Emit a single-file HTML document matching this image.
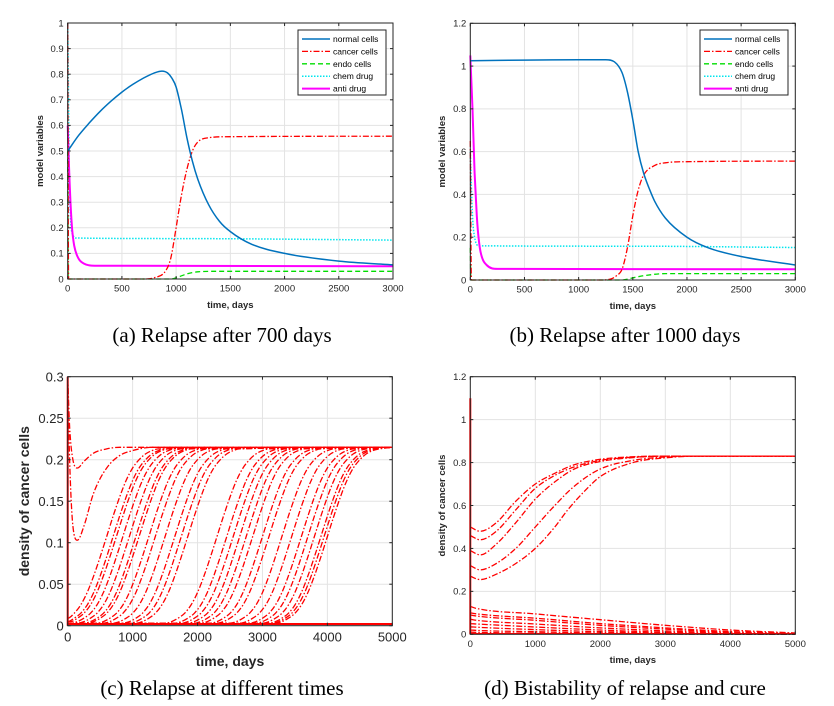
<!DOCTYPE html>
<html><head><meta charset="utf-8"><style>
body{margin:0;background:#fff;}
svg{display:block;font-family:"Liberation Sans",sans-serif;}
.cap{font-family:"Liberation Serif",serif;font-size:21px;fill:#000;}
</style></head><body>
<svg id="fig" width="834" height="706" viewBox="0 0 834 706"></svg>
<script>
// ---- Data: panel (a) ----
const aNormalT=[0,100,200,300,400,500,600,700,800,870,920,960,1000,1050,1100,1150,1200,1300,1400,1500,1700,2000,2500,3000];
const aNormalV=[0.5,0.56,0.61,0.655,0.695,0.73,0.76,0.785,0.805,0.812,0.805,0.785,0.75,0.66,0.55,0.46,0.39,0.29,0.225,0.185,0.135,0.1,0.07,0.055];
const aCancerT=[0,8,700,800,900,950,1000,1050,1100,1150,1200,1300,1500,3000];
const aCancerV=[1,0,0,0.005,0.03,0.08,0.2,0.33,0.43,0.5,0.535,0.552,0.556,0.558];
const aEndoT=[0,5,950,1000,1100,1200,1400,3000];
const aEndoV=[0.5,0,0,0.005,0.02,0.028,0.03,0.03];
const aChemT=[0,20,50,80,1000,3000];
const aChemV=[1,0.3,0.17,0.16,0.158,0.152];
const aAntiT=[0,20,40,60,100,150,250,3000];
const aAntiV=[0.6,0.35,0.2,0.13,0.08,0.06,0.052,0.05];
// ---- Data: panel (b) ----
const bNormalT=[0,500,1000,1250,1330,1400,1450,1500,1550,1600,1650,1700,1800,2000,2200,2500,3000];
const bNormalV=[1.025,1.028,1.03,1.03,1.02,0.97,0.88,0.75,0.6,0.5,0.43,0.37,0.29,0.2,0.15,0.11,0.07];
const bCancerT=[0,10,1200,1300,1350,1400,1450,1500,1550,1600,1700,1800,2000,3000];
const bCancerV=[0.65,0,0,0.005,0.02,0.05,0.15,0.3,0.42,0.49,0.535,0.548,0.553,0.556];
const bEndoT=[0,5,1400,1500,1600,1800,3000];
const bEndoV=[0.15,0,0,0.01,0.02,0.03,0.03];
const bChemT=[0,20,40,80,1500,3000];
const bChemV=[0.6,0.3,0.2,0.16,0.158,0.152];
const bAntiT=[0,20,40,60,80,100,150,250,3000];
const bAntiV=[1.05,0.8,0.5,0.3,0.18,0.12,0.07,0.052,0.05];
// ---- Data: panel (c) ----
const cMidTimes=[600,700,750,850,950,1050,1100,1250,1350,1500,1650,1750,1850,2300,2450,2550,2650,2750,2850,3000,3100,3300,3450,3600,3700,3800,3900,3950,4000];
const cShapeOffsets=[-4000,-800,-700,-600,-500,-400,-300,-200,-100,0,100,200,300,400,500,600,700,800,5000];
const cShapeValues=[0.002,0.003,0.005,0.009,0.015,0.025,0.04,0.06,0.083,0.1075,0.132,0.155,0.175,0.19,0.2,0.207,0.211,0.213,0.215];
const cTop1T=[0,30,80,150,250,400,600,800,5000];
const cTop1V=[0.3,0.24,0.2,0.19,0.198,0.208,0.213,0.215,0.215];
const cTop2T=[0,30,80,150,250,400,600,800,1000,1300,5000];
const cTop2V=[0.3,0.2,0.12,0.103,0.12,0.16,0.19,0.205,0.211,0.215,0.215];
// ---- Data: panel (d) ----
const dUpperT=[[0,150,400,700,1000,1300,1600,2000,2500,3000,5000],[0,150,400,700,1000,1300,1600,2000,2500,3000,5000],[0,150,400,700,1000,1300,1600,2000,2500,3000,5000],[0,150,400,700,1000,1300,1600,2000,2500,3000,3500,5000],[0,150,400,700,1000,1300,1500,1800,2000,2500,3000,3500,5000]];
const dUpperV=[[0.5,0.48,0.52,0.62,0.7,0.75,0.79,0.815,0.827,0.83,0.83],[0.46,0.44,0.48,0.58,0.68,0.74,0.78,0.81,0.825,0.83,0.83],[0.39,0.37,0.42,0.52,0.63,0.71,0.77,0.805,0.823,0.83,0.83],[0.32,0.3,0.33,0.4,0.5,0.6,0.69,0.77,0.81,0.826,0.83,0.83],[0.27,0.255,0.28,0.33,0.4,0.5,0.58,0.68,0.735,0.8,0.822,0.83,0.83]];
const dLowerT=[0,100,1000,2000,3000,4000,5000];
const dLowerV=[[0.13,0.12,0.095,0.068,0.042,0.02,0.006],[0.1,0.095,0.075,0.05,0.03,0.013,0.004],[0.09,0.085,0.065,0.042,0.024,0.01,0.003],[0.07,0.065,0.048,0.03,0.016,0.007,0.002],[0.05,0.048,0.034,0.02,0.01,0.004,0.001],[0.035,0.033,0.022,0.012,0.006,0.002,0.001],[0.02,0.018,0.012,0.006,0.003,0.001,0],[0.01,0.009,0.005,0.003,0.001,0,0]];

const NS="http://www.w3.org/2000/svg";
const fig=document.getElementById('fig');
function mk(tag,attrs,parent){const e=document.createElementNS(NS,tag);for(const k in attrs)e.setAttribute(k,attrs[k]);(parent||fig).appendChild(e);return e;}
const DASHDOT="6,2,1.5,2";
const DOT="1.5,1.5";

function axes(p){
  const g=mk('g',{});
  
  
  p.sx=v=>p.x0+(v-p.xmin)/(p.xmax-p.xmin)*(p.x1-p.x0);
  p.sy=v=>p.y0-(v-p.ymin)/(p.ymax-p.ymin)*(p.y0-p.y1);
  mk('rect',{x:p.x0,y:p.y1,width:p.x1-p.x0,height:p.y0-p.y1,fill:'#fff'},g);
  p.xt.forEach(v=>{const x=p.sx(v);mk('line',{x1:x,x2:x,y1:p.y1,y2:p.y0,stroke:'#e3e3e3','stroke-width':1},g);});
  p.yt.forEach(v=>{const y=p.sy(v);mk('line',{x1:p.x0,x2:p.x1,y1:y,y2:y,stroke:'#e3e3e3','stroke-width':1},g);});
  p.g=g;return p;
}
function frame(p){
  const g=p.g;
  mk('rect',{x:p.x0,y:p.y1,width:p.x1-p.x0,height:p.y0-p.y1,fill:'none',stroke:'#262626','stroke-width':1},g);
  p.xt.forEach((v,i)=>{const x=p.sx(v);
    mk('line',{x1:x,x2:x,y1:p.y0,y2:p.y0-3,stroke:'#262626'},g);
    mk('line',{x1:x,x2:x,y1:p.y1,y2:p.y1+3,stroke:'#262626'},g);
    const t=mk('text',{x:x,y:p.y0+p.fs+3,'font-size':p.fs,'text-anchor':'middle',fill:'#262626'},g);t.textContent=p.xl[i];
    
    });
  p.yt.forEach((v,i)=>{const y=p.sy(v);
    mk('line',{x1:p.x0,x2:p.x0+3,y1:y,y2:y,stroke:'#262626'},g);
    mk('line',{x1:p.x1,x2:p.x1-3,y1:y,y2:y,stroke:'#262626'},g);
    const t=mk('text',{x:p.x0-4,y:y+p.fs*0.35,'font-size':p.fs,'text-anchor':'end',fill:'#262626'},g);t.textContent=p.yl[i];
    
    });
  const xt=mk('text',{x:(p.x0+p.x1)/2,y:p.xly,'font-size':p.lfs,'font-weight':'bold','text-anchor':'middle',fill:'#262626'},g);
  xt.textContent='time, days';
  
  
  const yt=mk('text',{x:0,y:0,'font-size':p.lfs,'font-weight':'bold','text-anchor':'middle',fill:'#262626',transform:`translate(${p.ylx},${(p.y0+p.y1)/2}) rotate(-90)`},g);
  yt.textContent=p.ylabel;
  
  
}
function monoPath(X,Y){
  const n=X.length;if(n<3){return 'M'+X.map((x,i)=>x.toFixed(1)+','+Y[i].toFixed(1)).join(' L');}
  const d=[],m=new Array(n);
  for(let i=0;i<n-1;i++){const h=X[i+1]-X[i];d.push(h>1e-6?(Y[i+1]-Y[i])/h:0);}
  m[0]=d[0];m[n-1]=d[n-2];
  for(let i=1;i<n-1;i++){m[i]=(d[i-1]*d[i]<=0)?0:(d[i-1]+d[i])/2;}
  for(let i=0;i<n-1;i++){if(d[i]===0){m[i]=0;m[i+1]=0;continue;}
    const a=m[i]/d[i],b=m[i+1]/d[i],s=a*a+b*b;if(s>9){const t=3/Math.sqrt(s);m[i]=t*a*d[i];m[i+1]=t*b*d[i];}}
  let s='M'+X[0].toFixed(1)+','+Y[0].toFixed(1);
  for(let i=0;i<n-1;i++){const h=X[i+1]-X[i];
    if(h<0.5){s+=' L'+X[i+1].toFixed(1)+','+Y[i+1].toFixed(1);continue;}
    s+=' C'+(X[i]+h/3).toFixed(1)+','+(Y[i]+m[i]*h/3).toFixed(1)+' '+(X[i+1]-h/3).toFixed(1)+','+(Y[i+1]-m[i+1]*h/3).toFixed(1)+' '+X[i+1].toFixed(1)+','+Y[i+1].toFixed(1);}
  return s;
}
function line(p,T,V,color,w,dash,name){
  const X=[],Y=[];
  T.forEach((t,i)=>{const tt=Math.min(Math.max(t,p.xmin),p.xmax);const x=p.sx(tt);
    if(X.length&&x<=X[X.length-1]+0.01&&tt!==T[0]){X[X.length-1]=x;Y[Y.length-1]=p.sy(V[i]);return;}
    X.push(x);Y.push(p.sy(V[i]));});
  const e=mk('path',{d:monoPath(X,Y),fill:'none',stroke:color,'stroke-width':w,'stroke-linejoin':'round'},p.g);
  if(dash)e.setAttribute('stroke-dasharray',dash);
  
  
  return e;
}
const COL={normal:'#0072bd',cancer:'#ff0000',endo:'#00dd00',chem:'#00e5ee',anti:'#ff00ff'};
function legend(p,lx,ly){
  const g=mk('g',{},p.g);
  
  
  mk('rect',{x:lx,y:ly,width:88,height:65,fill:'#fff',stroke:'#262626','stroke-width':1},g);
  const items=[['normal cells',COL.normal,null,1.5],['cancer cells',COL.cancer,DASHDOT,1.3],['endo cells',COL.endo,'5,3',1.3],['chem drug',COL.chem,DOT,1.5],['anti drug',COL.anti,null,2]];
  items.forEach((it,i)=>{const y=ly+9+i*12.4;
    const l=mk('line',{x1:lx+4,x2:lx+32,y1:y,y2:y,stroke:it[1],'stroke-width':it[3]},g);
    if(it[2])l.setAttribute('stroke-dasharray',it[2]);
    
    
    const t=mk('text',{x:lx+35,y:y+3,'font-size':8.5,fill:'#000'},g);t.textContent=it[0];
    
    });
}
function caption(x,y,txt){const t=mk('text',{x:x,y:y,'text-anchor':'middle',class:'cap'});t.textContent=txt;
  
  }

// Panel a
const pa=axes({name:'panel-a',x0:67.7,x1:393,y0:279,y1:23,xmin:0,xmax:3000,ymin:0,ymax:1,
  xt:[0,500,1000,1500,2000,2500,3000],xl:['0','500','1000','1500','2000','2500','3000'],
  yt:[0,.1,.2,.3,.4,.5,.6,.7,.8,.9,1],yl:['0','0.1','0.2','0.3','0.4','0.5','0.6','0.7','0.8','0.9','1'],
  fs:9.5,lfs:9.5,xly:308,ylx:43,ylabel:'model variables'});
line(pa,aChemT,aChemV,COL.chem,1.5,DOT,'chem-drug-line');
line(pa,aEndoT,aEndoV,COL.endo,1.3,'5,3','endo-cells-line');
line(pa,aAntiT,aAntiV,COL.anti,2,null,'anti-drug-line');
line(pa,aCancerT,aCancerV,COL.cancer,1.3,DASHDOT,'cancer-cells-line');
line(pa,aNormalT,aNormalV,COL.normal,1.5,null,'normal-cells-line');
frame(pa);legend(pa,298,30);

// Panel b
const pb=axes({name:'panel-b',x0:470.3,x1:795.3,y0:280,y1:23.3,xmin:0,xmax:3000,ymin:0,ymax:1.2,
  xt:[0,500,1000,1500,2000,2500,3000],xl:['0','500','1000','1500','2000','2500','3000'],
  yt:[0,.2,.4,.6,.8,1,1.2],yl:['0','0.2','0.4','0.6','0.8','1','1.2'],
  fs:9.5,lfs:9.5,xly:309,ylx:445,ylabel:'model variables'});
line(pb,bChemT,bChemV,COL.chem,1.5,DOT,'chem-drug-line');
line(pb,bEndoT,bEndoV,COL.endo,1.3,'5,3','endo-cells-line');
line(pb,bAntiT,bAntiV,COL.anti,2,null,'anti-drug-line');
line(pb,bCancerT,bCancerV,COL.cancer,1.3,DASHDOT,'cancer-cells-line');
line(pb,bNormalT,bNormalV,COL.normal,1.5,null,'normal-cells-line');
frame(pb);legend(pb,700,30);

// Panel c
const pc=axes({name:'panel-c',x0:67.7,x1:392.3,y0:625.7,y1:376.7,xmin:0,xmax:5000,ymin:0,ymax:0.3,
  xt:[0,1000,2000,3000,4000,5000],xl:['0','1000','2000','3000','4000','5000'],
  yt:[0,.05,.1,.15,.2,.25,.3],yl:['0','0.05','0.1','0.15','0.2','0.25','0.3'],
  fs:13,lfs:14,xly:666,ylx:29,ylabel:'density of cancer cells'});
cMidTimes.forEach(m=>{
  const T=cShapeOffsets.filter(o=>m+o>=0).map(o=>m+o);
  const V=cShapeValues.filter((v,i)=>m+cShapeOffsets[i]>=0);
  line(pc,[0].concat(T),[V[0]].concat(V),'#ff0000',1.3,DASHDOT,'relapse-curve');
});
line(pc,cTop1T,cTop1V,'#ff0000',1.3,DASHDOT,'relapse-curve-early');
line(pc,cTop2T,cTop2V,'#ff0000',1.3,DASHDOT,'relapse-curve-early');
line(pc,[0,0],[0,0.3],'#ff0000',2,null,'initial-spike');
line(pc,[0,5000],[0.002,0.002],'#ff0000',2,null,'baseline-cluster');
frame(pc);

// Panel d
const pd=axes({name:'panel-d',x0:470.3,x1:795.3,y0:634.3,y1:376.7,xmin:0,xmax:5000,ymin:0,ymax:1.2,
  xt:[0,1000,2000,3000,4000,5000],xl:['0','1000','2000','3000','4000','5000'],
  yt:[0,.2,.4,.6,.8,1,1.2],yl:['0','0.2','0.4','0.6','0.8','1','1.2'],
  fs:9.5,lfs:9.5,xly:663,ylx:445,ylabel:'density of cancer cells'});
dUpperT.forEach((T,i)=>line(pd,T,dUpperV[i],'#ff0000',1.3,DASHDOT,'relapse-curve'));
dLowerV.forEach(V=>line(pd,dLowerT,V,'#ff0000',1.3,DASHDOT,'cure-curve'));
line(pd,[0,0],[0,1.1],'#ff0000',2,null,'initial-spike');
line(pd,[0,5000],[0.003,0.003],'#ff0000',1.5,null,'baseline-cluster');
frame(pd);

caption(222,342,'(a) Relapse after 700 days');
caption(625,342,'(b) Relapse after 1000 days');
caption(222,695,'(c) Relapse at different times');
caption(625,695,'(d) Bistability of relapse and cure');
</script>
</body></html>
